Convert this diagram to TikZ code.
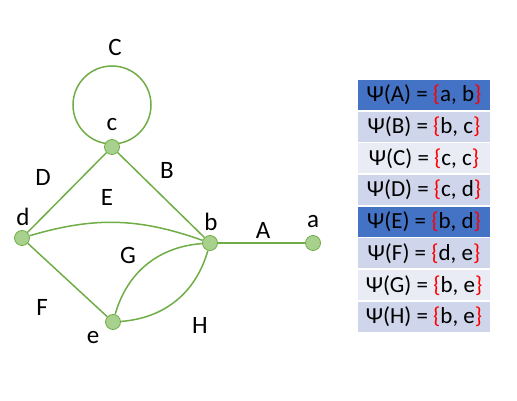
\documentclass[tikz,border=0pt]{standalone}
\usepackage{fontspec}
\setmainfont{Carlito}
\usetikzlibrary{positioning}
\definecolor{edgegreen}{HTML}{70AD47}
\definecolor{vertfill}{HTML}{A9D18E}
\definecolor{rowdark}{HTML}{4472C4}
\definecolor{rowmid}{HTML}{CFD5EA}
\definecolor{rowlight}{HTML}{E9EBF5}
\tikzset{
  vertex/.style={circle, draw=edgegreen, fill=vertfill, minimum size=15pt, inner sep=0pt, line width=0.8pt},
  edge/.style={draw=edgegreen, line width=1.5pt},
  lbl/.style={font=\fontsize{25}{27}\selectfont, inner sep=0pt},
  row/.style={minimum width=132pt, minimum height=30pt, inner sep=0pt, font=\fontsize{23}{25}\selectfont},
}
\newcommand{\incid}[2]{Ψ(#1) = \textcolor{red}{\{}#2\textcolor{red}{\}}}

\begin{document}
\begin{tikzpicture}[x=1pt,y=1pt]
    \useasboundingbox (0,0) rectangle (517,401);
    % loop C sits behind vertex c
    \coordinate (cpos) at (112, 254);
    \draw[edge] (cpos) ++(0,42) circle (39);
    % vertices
    \node[vertex] (c) at (cpos) {};
    \node[vertex] (d) at (22, 163) {};
    \node[vertex] (b) at (210, 158) {};
    \node[vertex] (a) at (313, 158) {};
    \node[vertex] (e) at (113, 79) {};
    % edges
    \draw[edge] (c) -- (d);
    \draw[edge] (c) -- (b);
    \draw[edge] (b) -- (a);
    \draw[edge] (d) -- (e);
    \draw[edge] (d) to[bend left=18] (b);
    \draw[edge] (e) to[bend left=35] (b);
    \draw[edge] (e) to[bend right=35] (b);
    % vertex names
    \node[lbl] (lc) at (112, 276) {c};
    \node[lbl] (ld) at (23, 184) {d};
    \node[lbl] (lb) at (211, 179) {b};
    \node[lbl] (la) at (313, 179) {a};
    \node[lbl] (le) at (93, 63) {e};
    % edge names
    \node[lbl] (eC) at (115, 354) {C};
    \node[lbl] (eD) at (43, 224) {D};
    \node[lbl] (eB) at (167, 231) {B};
    \node[lbl] (eE) at (107, 204) {E};
    \node[lbl] (eA) at (263, 171) {A};
    \node[lbl] (eG) at (128, 146) {G};
    \node[lbl] (eF) at (42, 94) {F};
    \node[lbl] (eH) at (200, 76) {H};
    % incidence table
    \foreach \i/\e/\v/\col in {0/A/{a, b}/rowdark, 1/B/{b, c}/rowmid, 2/C/{c, c}/rowlight,
        3/D/{c, d}/rowmid, 4/E/{b, d}/rowdark, 5/F/{d, e}/rowmid,
        6/G/{b, e}/rowlight, 7/H/{b, e}/rowmid}
      \node[row, fill=\col] (row\e) at (424, 306-31.7*\i) {\incid{\e}{\v}};
\end{tikzpicture}
\end{document}
